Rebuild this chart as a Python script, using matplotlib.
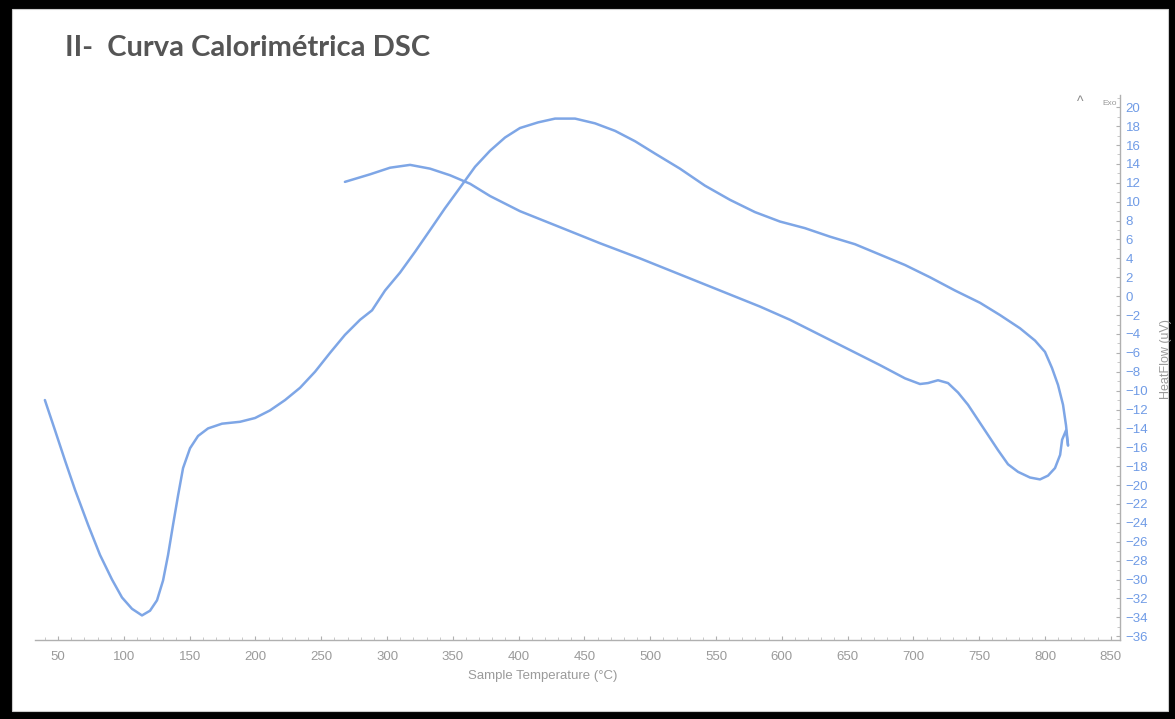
import matplotlib.pyplot as plt
import matplotlib.patches as patches
from matplotlib.ticker import MultipleLocator

# heating run (sample temperature in C, heat flow in uV)
heat_t = [40, 47.7, 55.3, 62.9, 72.8, 81.9, 91, 98.6, 106.2, 113.8, 119.9, 125.2,
          129.8, 133.6, 137.4, 141.2, 145, 150.3, 156.4, 164, 174.6, 188.3, 199.7,
          211, 222.5, 233.9, 245.3, 256.7, 268, 279.5, 288.6, 298.5, 309.9, 321.3,
          332.7, 344, 355.5, 366.9, 378.3, 389.7, 401, 414.8, 427.7, 442.9, 458,
          473.3, 488.5, 503.6, 522.6, 541.6, 560.6, 579.6, 598.6, 617.6, 636.6,
          655.6, 674.6, 693.6, 712.6, 731.6, 750.6, 765.8, 781, 792.4, 800, 805.3,
          809.9, 813.7, 816, 817.5]
heat_v = [-11, -14.2, -17.4, -20.5, -24.2, -27.4, -30, -31.9, -33.1, -33.8, -33.3,
          -32.2, -30.1, -27.4, -24.2, -21.1, -18.2, -16.1, -14.8, -14, -13.5, -13.3,
          -12.9, -12.1, -11, -9.7, -8, -6, -4.1, -2.5, -1.5, 0.6, 2.5, 4.7, 7, 9.3,
          11.5, 13.7, 15.4, 16.8, 17.8, 18.4, 18.8, 18.8, 18.3, 17.5, 16.4, 15.1,
          13.5, 11.7, 10.2, 8.9, 7.9, 7.2, 6.3, 5.5, 4.4, 3.3, 2, 0.6, -0.7, -2,
          -3.4, -4.7, -5.9, -7.6, -9.4, -11.5, -13.7, -15.8]

# cooling run
cool_t = [817.5, 816, 813, 811.5, 807.6, 802.3, 796.2, 788.6, 779.5, 771.9, 764.3,
          756.7, 749.1, 741.5, 733.9, 726.3, 718.7, 711.1, 705, 693.6, 674.6,
          651.8, 629, 606.2, 583.4, 553, 522.6, 492.2, 461.9, 431.5, 401, 378.3,
          363.1, 347.9, 332.7, 317.5, 302.3, 287.1, 268]
cool_v = [-15.8, -14.2, -15.2, -16.8, -18.2, -19, -19.4, -19.2, -18.6, -17.8, -16.3,
          -14.7, -13.1, -11.5, -10.2, -9.2, -8.9, -9.2, -9.3, -8.7, -7.3, -5.7,
          -4.1, -2.5, -1.1, 0.6, 2.3, 4, 5.6, 7.3, 9, 10.6, 11.9, 12.8, 13.5, 13.9,
          13.6, 12.9, 12.1]

x_ticks = list(range(50, 851, 50))
y_ticks = list(range(-36, 21, 2))

line_col = '#7ea6e6'
tick_col = '#6f9be6'
grey = '#9a9a9a'

plt.rcParams['font.family'] = ['Liberation Sans', 'DejaVu Sans']
fig = plt.figure(figsize=(11.75, 7.19), dpi=100, facecolor='black')

# white page inside the black frame
fig.patches.append(patches.Rectangle((12 / 1175, 8 / 719), 1156 / 1175, 702 / 719,
                                     transform=fig.transFigure, facecolor='white',
                                     edgecolor='#cccccc', lw=0.8, zorder=-10))

ax = fig.add_axes([0.0298, 0.1099, 0.9234, 0.758])
ax.patch.set_alpha(0)
ax.plot(heat_t, heat_v, color=line_col, lw=1.8, solid_joinstyle='round',
        solid_capstyle='round')
ax.plot(cool_t, cool_v, color=line_col, lw=1.8, solid_joinstyle='round',
        solid_capstyle='round')

ax.set_xlim(32.5, 857)
ax.set_ylim(-36.4, 21.3)
ax.set_xticks(x_ticks)
ax.set_yticks(y_ticks)
ax.xaxis.set_minor_locator(MultipleLocator(10))
ax.yaxis.set_minor_locator(MultipleLocator(1))
ax.yaxis.tick_right()

for s in ['left', 'top']:
    ax.spines[s].set_visible(False)
for s in ['right', 'bottom']:
    ax.spines[s].set_color('#b0b0b0')
    ax.spines[s].set_linewidth(1.0)

ax.tick_params(axis='x', which='major', direction='in', length=3, color='#b0b0b0',
               labelcolor=grey, labelsize=9.5, pad=8)
ax.tick_params(axis='y', which='major', direction='in', length=3, color='#b0b0b0',
               labelcolor=tick_col, labelsize=9.5, pad=4)
ax.tick_params(which='minor', direction='in', length=2, color='#c0c0c0')

fig.text(0.462, 0.06, 'Sample Temperature (°C)', color=grey, fontsize=9.5,
         ha='center', va='center')
fig.text(0.992, 0.5, 'HeatFlow (uV)', color=grey, fontsize=9, rotation=90,
         ha='center', va='center')
fig.text(0.919, 0.858, '^', color='#888888', fontsize=10, ha='center', va='center')
fig.text(0.944, 0.856, 'Exo', color='#999999', fontsize=6, ha='center', va='center')

fig.text(0.055, 0.933, 'II-  Curva Calorimétrica DSC', color='#555555',
         fontsize=21, fontweight='bold', family=['Lato', 'DejaVu Sans'],
         ha='left', va='center')

fig.savefig('out.png', dpi=100, facecolor='black')
